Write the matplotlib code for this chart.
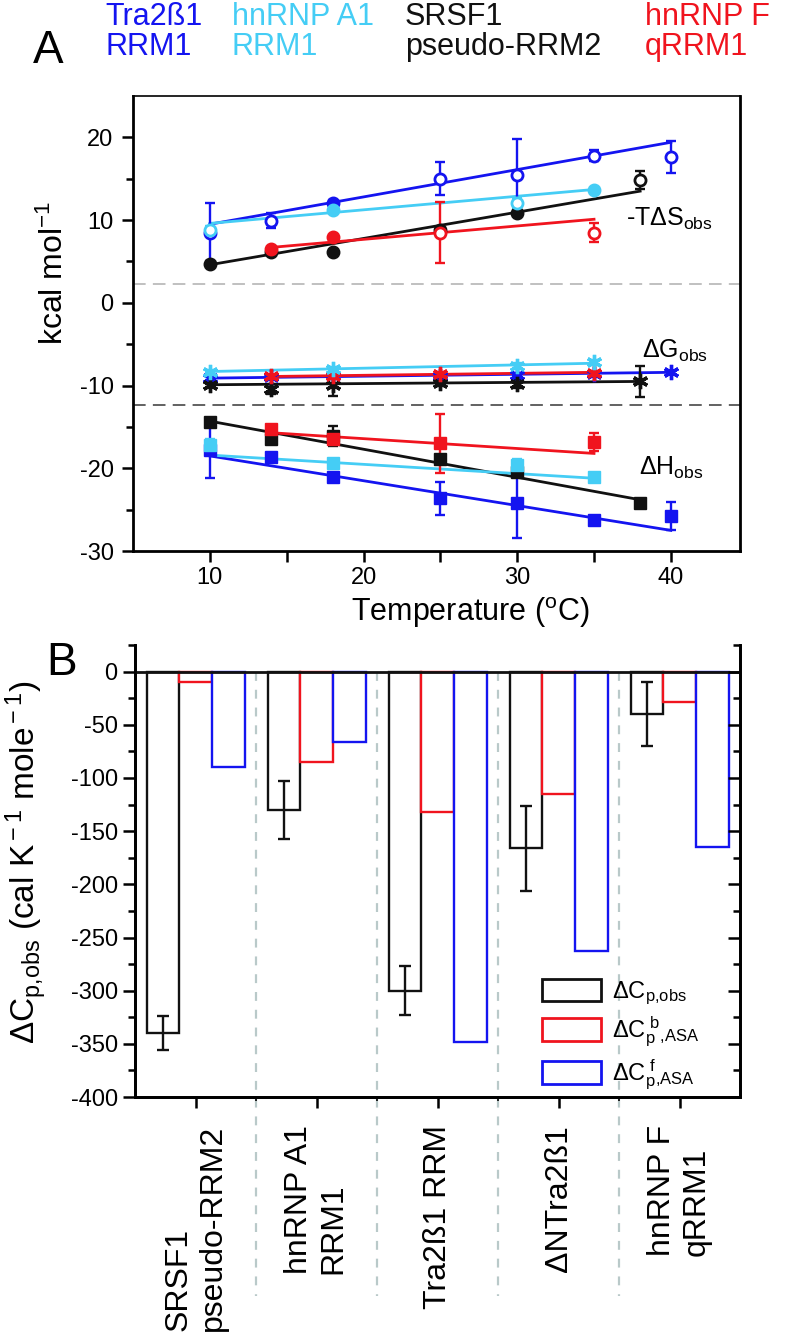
import numpy as np
import matplotlib.pyplot as plt
from matplotlib.patches import Patch

# ------------------------------------------------------------
# Panel A: thermodynamic parameters vs temperature
# ------------------------------------------------------------
T_tra = [10, 14, 18, 25, 30, 35, 40]        # Tra2ß1 RRM1
T_hna1 = [10, 18, 30, 35]                   # hnRNP A1 RRM1
T_srsf = [10, 14, 18, 25, 30, 38]           # SRSF1 pseudo-RRM2
T_hnf = [14, 18, 25, 35]                    # hnRNP F qRRM1

# -T dS_obs
tra_tds = [8.5, 9.9, 12.1, 15.0, 15.4, 17.8, 17.6]
tra_tds_err = [3.6, 0.9, 0.3, 2.0, 4.4, 0.7, 1.9]
hna1_tds = [8.8, 11.2, 12.1, 13.6]
hna1_tds_err = [0.5, 0.3, 0.6, 0.3]
srsf_tds = [4.7, 6.1, 6.1, 8.8, 10.8, 14.8]
srsf_tds_err = [0.3, 0.3, 0.3, 0.3, 0.3, 1.1]
hnf_tds = [6.5, 7.9, 8.5, 8.5]
hnf_tds_err = [0.3, 0.3, 3.7, 1.1]

# dG_obs
tra_dg = [-9.1, -9.0, -8.9, -8.8, -8.7, -8.6, -8.4]
tra_dg_err = [0.2, 0.2, 0.2, 0.2, 0.2, 0.2, 0.2]
hna1_dg = [-8.3, -8.0, -7.6, -7.2]
hna1_dg_err = [0.2, 0.3, 0.3, 0.3]
srsf_dg = [-9.9, -10.4, -9.9, -9.7, -9.8, -9.5]
srsf_dg_err = [0.3, 0.6, 1.3, 0.3, 0.5, 1.9]
hnf_dg = [-8.9, -8.8, -8.6, -8.5]
hnf_dg_err = [0.2, 0.3, 0.3, 0.3]

# dH_obs
tra_dh = [-17.8, -18.6, -21.0, -23.6, -24.2, -26.3, -25.8]
tra_dh_err = [3.4, 0.5, 0.4, 2.0, 4.2, 0.5, 1.7]
hna1_dh = [-17.2, -19.3, -19.6, -21.1]
hna1_dh_err = [0.8, 0.3, 0.7, 0.3]
srsf_dh = [-14.4, -16.4, -16.1, -18.9, -20.4, -24.2]
srsf_dh_err = [0.4, 0.7, 1.2, 0.4, 0.6, 0.4]
hnf_dh = [-15.2, -16.4, -17.0, -16.8]
hnf_dh_err = [0.4, 0.5, 3.6, 1.1]

# linear fits (end points)
fit_T = {"tra": [10, 40], "hna1": [10, 35], "srsf": [10, 38], "hnf": [14, 35]}
fit_tds = {"tra": [9.5, 19.4], "hna1": [9.6, 13.7], "srsf": [4.6, 13.5], "hnf": [6.7, 10.1]}
fit_dg = {"tra": [-9.1, -8.4], "hna1": [-8.3, -7.3], "srsf": [-9.9, -9.5], "hnf": [-8.9, -8.4]}
fit_dh = {"tra": [-18.5, -27.5], "hna1": [-18.4, -21.2], "srsf": [-14.3, -23.8], "hnf": [-15.7, -18.2]}

# ------------------------------------------------------------
# Panel B: heat capacity changes
# ------------------------------------------------------------
constructs = ["SRSF1\npseudo-RRM2", "hnRNP A1\nRRM1", "Tra2ß1 RRM", "ΔNTra2ß1", "hnRNP F\nqRRM1"]
cp_obs = [-340, -130, -300, -166, -40]
cp_obs_err = [16, 27, 23, 40, 30]
cp_asa_b = [-10, -85, -132, -115, -29]
cp_asa_f = [-90, -66, -348, -263, -165]

# ------------------------------------------------------------
# styling
# ------------------------------------------------------------
plt.rcParams.update({
    "font.family": ["Liberation Sans", "DejaVu Sans"],
    "mathtext.fontset": "custom",
    "mathtext.rm": "Liberation Sans",
    "mathtext.it": "Liberation Sans",
    "mathtext.sf": "Liberation Sans",
    "mathtext.bf": "Liberation Sans:bold",
    "axes.unicode_minus": False,
    "axes.linewidth": 2.0,
})

BLUE = "#1414f0"
CYAN = "#45cdf5"
BLACK = "#111111"
RED = "#f0141e"

series = [
    # key, T, colour, (tds, err), (dg, err), (dh, err), open circles for tds
    ("tra", T_tra, BLUE, (tra_tds, tra_tds_err), (tra_dg, tra_dg_err), (tra_dh, tra_dh_err),
     [1, 1, 0, 1, 1, 1, 1]),
    ("srsf", T_srsf, BLACK, (srsf_tds, srsf_tds_err), (srsf_dg, srsf_dg_err), (srsf_dh, srsf_dh_err),
     [0, 0, 0, 0, 0, 1]),
    ("hnf", T_hnf, RED, (hnf_tds, hnf_tds_err), (hnf_dg, hnf_dg_err), (hnf_dh, hnf_dh_err),
     [0, 0, 1, 1]),
    ("hna1", T_hna1, CYAN, (hna1_tds, hna1_tds_err), (hna1_dg, hna1_dg_err), (hna1_dh, hna1_dh_err),
     [1, 0, 1, 0]),
]

fig = plt.figure(figsize=(7.86, 13.33), dpi=100)
axA = fig.add_axes([0.1692, 0.5866, 0.7723, 0.3414])
axB = fig.add_axes([0.1718, 0.1770, 0.7697, 0.3391])

lw = 2.0
eb = dict(elinewidth=1.7, capsize=3.6, capthick=1.7, linestyle="none", zorder=3)

for key, T, col, tds, dg, dh, opn in series:
    T = np.asarray(T)
    # fit lines
    axA.plot(fit_T[key], fit_tds[key], color=col, lw=lw, zorder=2)
    axA.plot(fit_T[key], fit_dg[key], color=col, lw=lw, zorder=2)
    axA.plot(fit_T[key], fit_dh[key], color=col, lw=lw, zorder=2)
    # -TdS: circles
    axA.errorbar(T, tds[0], yerr=tds[1], color=col, **eb)
    opn = np.asarray(opn, bool)
    v = np.asarray(tds[0])
    axA.plot(T[opn], v[opn], "o", ms=8, mfc="white", mec=col, mew=2, zorder=4)
    axA.plot(T[~opn], v[~opn], "o", ms=8, mfc=col, mec=col, mew=2, zorder=4)
    # dG: asterisks
    axA.errorbar(T, dg[0], yerr=dg[1], color=col, **eb)
    axA.plot(T, dg[0], marker=(6, 2, 0), ms=11, mec=col, mew=2.4, ls="none", zorder=4)
    # dH: squares
    axA.errorbar(T, dh[0], yerr=dh[1], color=col, **eb)
    axA.plot(T, dh[0], "s", ms=8, mfc=col, mec=col, zorder=4)

axA.axhline(2.3, color="#bbbbbb", lw=1.3, ls=(0, (7, 4)), zorder=1)
axA.axhline(-12.3, color="#555555", lw=1.3, ls=(0, (7, 4)), zorder=1)

axA.set_xlim(5, 44.5)
axA.set_ylim(-30, 25)
axA.set_xticks([10, 20, 30, 40])
axA.set_xticks([15, 25, 35], minor=True)
axA.set_yticks([-30, -20, -10, 0, 10, 20])
axA.set_yticks([-25, -15, -5, 5, 15], minor=True)
axA.tick_params(axis="both", which="major", direction="out", length=8, width=1.8,
                labelsize=17, top=False, right=False)
axA.tick_params(axis="x", which="minor", direction="out", length=8, width=1.8)
axA.tick_params(axis="y", which="minor", direction="out", length=5, width=1.8)
axA.tick_params(axis="y", pad=6)
axA.set_ylabel(r"kcal mol$^{-1}$", fontsize=23)
axA.yaxis.set_label_coords(-0.104, 0.611)
axA.set_xlabel(r"Temperature ($^{\rm o}$C)", fontsize=22)
axA.xaxis.set_label_coords(0.555, -0.098)
axA.spines["top"].set_linewidth(1.2)

axA.text(37.1, 10.2, r"-T$\Delta$S$_{\rm obs}$", fontsize=18, va="center", ha="left")
axA.text(38.1, -5.8, r"$\Delta$G$_{\rm obs}$", fontsize=18, va="center", ha="left")
axA.text(37.9, -19.9, r"$\Delta$H$_{\rm obs}$", fontsize=18, va="center", ha="left")

# header legend (coloured construct names)
head = [(0.134, "Tra2ß1", "RRM1", BLUE), (0.295, "hnRNP A1", "RRM1", CYAN),
        (0.515, "SRSF1", "pseudo-RRM2", BLACK), (0.820, "hnRNP F", "qRRM1", RED)]
for x, l1, l2, c in head:
    fig.text(x, 0.9875, l1, color=c, fontsize=22, ha="left", va="center")
    fig.text(x, 0.9650, l2, color=c, fontsize=22, ha="left", va="center")
fig.text(0.061, 0.962, "A", fontsize=33, ha="center", va="center")
fig.text(0.078, 0.503, "B", fontsize=33, ha="center", va="center")

# ------------------------------------------------------------
# Panel B bars
# ------------------------------------------------------------
x = np.arange(1, len(constructs) + 1)
w = 0.27
axB.bar(x - w, cp_obs, width=w, facecolor="white", edgecolor=BLACK, lw=1.7, zorder=2)
axB.bar(x, cp_asa_b, width=w, facecolor="white", edgecolor=RED, lw=1.7, zorder=2)
axB.bar(x + w, cp_asa_f, width=w, facecolor="white", edgecolor=BLUE, lw=1.7, zorder=2)
axB.errorbar(x - w, cp_obs, yerr=cp_obs_err, color=BLACK, elinewidth=1.7, capsize=4.5,
             capthick=1.7, ls="none", zorder=3)
axB.axhline(0, color=BLACK, lw=2.0, zorder=4)

for s in [1.5, 2.5, 3.5, 4.5]:
    axB.plot([s, s], [400 / 425, -0.44], transform=axB.get_xaxis_transform(),
             color="#b9c9c9", lw=1.6, ls=(0, (4, 4)), clip_on=False, zorder=1)

axB.set_xlim(0.5, 5.5)
axB.set_ylim(-400, 25)
axB.set_yticks(np.arange(-400, 1, 50))
axB.set_yticks(np.arange(-375, 26, 50), minor=True)
axB.set_xticks(x)
axB.set_xticks([1.5, 2.5, 3.5, 4.5], minor=True)
axB.set_xticklabels(constructs, rotation=90, ha="center", va="top",
                    multialignment="left", fontsize=23)
axB.tick_params(axis="y", which="major", direction="out", length=9, width=1.8,
                labelsize=17, right=False)
axB.tick_params(axis="y", which="minor", direction="out", length=5, width=1.8)
axB.tick_params(axis="x", which="major", direction="out", length=8, width=1.8, pad=12)
axB.tick_params(axis="x", which="minor", direction="out", length=3, width=1.2)
axB.spines["top"].set_visible(False)

# right spine with inward ticks
axR = axB.twinx()
axR.set_ylim(axB.get_ylim())
axR.set_yticks(np.arange(-400, 1, 50))
axR.set_yticks(np.arange(-375, 26, 50), minor=True)
axR.tick_params(axis="y", which="major", direction="in", length=9, width=1.8, labelright=False)
axR.tick_params(axis="y", which="minor", direction="in", length=5, width=1.8)
axR.spines["top"].set_visible(False)

axB.set_ylabel(r"$\Delta$C$_{\rm p{,}obs}$ (cal K$^{\rm -1}$ mole$^{\rm -1}$)", fontsize=24)
axB.yaxis.set_label_coords(-0.142, 0.52)

handles = [Patch(facecolor="white", edgecolor=BLACK, lw=2),
           Patch(facecolor="white", edgecolor=RED, lw=2),
           Patch(facecolor="white", edgecolor=BLUE, lw=2)]
labels = [r"$\Delta$C$_{\rm p{,}obs}$",
          r"$\Delta$C$_{\rm p}^{\ \rm b}{}_{\rm {,}ASA}$",
          r"$\Delta$C$_{\rm p}^{\ \rm f}{}_{\rm {,}ASA}$"]
axB.legend(handles, labels, loc="upper left", bbox_to_anchor=(0.672, 0.262),
           frameon=False, fontsize=17, handlelength=2.5, handleheight=1.1,
           labelspacing=0.35, handletextpad=0.5, borderaxespad=0, borderpad=0)

fig.savefig("out.png", dpi=100)
